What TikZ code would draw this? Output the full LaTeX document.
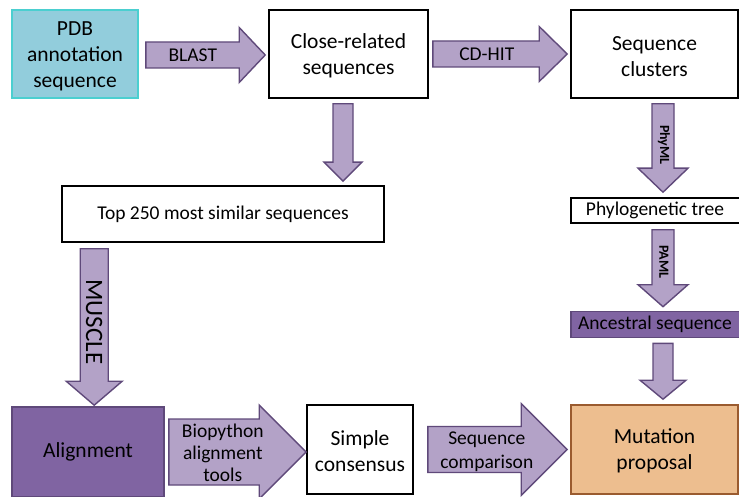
\documentclass[tikz,border=0pt]{standalone}
\usepackage{fontspec}
\setmainfont{Carlito}
\usetikzlibrary{calc}

\definecolor{arrowfill}{HTML}{B3A2C7}
\definecolor{arrowline}{HTML}{5F497A}
\definecolor{pdbfill}{HTML}{92CDDC}
\definecolor{pdbline}{HTML}{4BCFD0}
\definecolor{violetfill}{HTML}{8064A2}
\definecolor{violetline}{HTML}{5F497A}
\definecolor{orangefill}{HTML}{EDBE8F}
\definecolor{orangeline}{HTML}{9A5B2F}

% horizontal block arrow: from, to, shaft half-height, head half-height, head length
\newcommand\hblock[5]{%
  \path[blockarrow] let \p1=(#1), \p2=(#2) in
    (\x1,\y1+#3pt) -- (\x2-#5pt,\y1+#3pt) -- (\x2-#5pt,\y1+#4pt) -- (\x2,\y1)
    -- (\x2-#5pt,\y1-#4pt) -- (\x2-#5pt,\y1-#3pt) -- (\x1,\y1-#3pt) -- cycle;}
% downward block arrow: from, to, shaft half-width, head half-width, head length
\newcommand\vblock[5]{%
  \path[blockarrow] let \p1=(#1), \p2=(#2) in
    (\x1-#3pt,\y1) -- (\x1-#3pt,\y2+#5pt) -- (\x1-#4pt,\y2+#5pt) -- (\x1,\y2)
    -- (\x1+#4pt,\y2+#5pt) -- (\x1+#3pt,\y2+#5pt) -- (\x1+#3pt,\y1) -- cycle;}

\tikzset{
  box/.style={draw=black, fill=white, line width=1.6pt, align=center, inner sep=0pt,
    font=\fontsize{21.5}{26}\selectfont},
  thinbox/.style={box, font=\fontsize{19.5}{23}\selectfont},
  pdbbox/.style={box, fill=pdbfill, draw=pdbline},
  violetbox/.style={box, fill=violetfill, draw=violetline},
  orangebox/.style={box, fill=orangefill, draw=orangeline},
  blockarrow/.style={draw=arrowline, fill=arrowfill, line width=1.4pt, line join=miter},
  lbl/.style={align=center, inner sep=0pt, font=\fontsize{19.5}{22.5}\selectfont},
  vlbl/.style={lbl, rotate=-90},
  toollbl/.style={vlbl, font=\bfseries\fontsize{14}{16}\selectfont},
}

\begin{document}
\begin{tikzpicture}[x=1pt, y=-1pt]
\useasboundingbox (0,0) rectangle (739,497);

% process boxes
\node[pdbbox, minimum width=126pt, minimum height=88pt] (pdb) at (75,54)
  {\strut PDB\\annotation\\sequence};
\node[box, minimum width=159pt, minimum height=88pt] (close) at (348.5,54)
  {\strut Close-related\\sequences};
\node[box, minimum width=167pt, minimum height=88pt] (clusters) at (654.5,54)
  {\strut Sequence\\clusters};
\node[thinbox, minimum width=322pt, minimum height=56pt] (top) at (223,214)
  {Top 250 most similar sequences};
% the two narrow boxes run past the right edge of the page
\node[thinbox, minimum width=174pt, minimum height=25pt] (tree) at (658,210.5)
  {\hspace*{-6pt}Phylogenetic tree};
\node[thinbox, fill=violetfill, draw=violetline, minimum width=174pt, minimum height=26pt]
  (anc) at (658,324.5) {\hspace*{-6pt}Ancestral sequence};
\node[violetbox, minimum width=152pt, minimum height=90pt] (align) at (88,452)
  {Alignment};
\node[box, minimum width=106pt, minimum height=89pt] (cons) at (360,449.5)
  {\strut Simple\\consensus};
\node[orangebox, minimum width=167pt, minimum height=89pt] (mut) at (654.5,449.5)
  {\strut Mutation\\proposal};

% arrow end points
\coordinate (blastA) at ($(pdb.east)+(7,1)$);
\coordinate (blastB) at ($(close.west)+(-3,1)$);
\coordinate (cdhitA) at ($(close.east)+(4,0)$);
\coordinate (cdhitB) at ($(clusters.west)+(-3,0)$);
\coordinate (downA)  at ($(close.south)+(-5.5,5)$);
\coordinate (downB)  at ($(top.north)+(0,-4)$);
\coordinate (phyA)   at ($(clusters.south)+(8.5,5)$);
\coordinate (phyB)   at ($(tree.north)+(0,-5)$);
\coordinate (pamlA)  at ($(tree.south)+(5,6)$);
\coordinate (pamlB)  at ($(anc.north)+(0,-4)$);
\coordinate (ancA)   at ($(anc.south)+(5,5)$);
\coordinate (ancB)   at ($(mut.north)+(0,-5)$);
\coordinate (muscA)  at ($(top.south west)+(33,6)$);
\coordinate (muscB)  at ($(align.north)+(0,-1)$);
\coordinate (bioA)   at ($(align.east)+(4,0)$);
\coordinate (bioB)   at ($(cons.west)+(0,2)$);
\coordinate (cmpA)   at ($(cons.east)+(14,0)$);
\coordinate (cmpB)   at ($(mut.west)+(-3,0)$);

% block arrows
\hblock{blastA}{blastB}{13}{27.5}{26}
\hblock{cdhitA}{cdhitB}{13}{27.5}{28}
\vblock{downA}{downB}{10}{19}{19}
\vblock{phyA}{phyB}{11}{25}{24}
\vblock{pamlA}{pamlB}{11}{25}{22}
\vblock{ancA}{ancB}{10}{23}{19}
\vblock{muscA}{muscB}{14}{28}{24}
\hblock{bioA}{bioB}{33}{47}{47}
\hblock{cmpA}{cmpB}{23}{46}{46}

% arrow labels
\node[lbl] (lblast) at ($(blastA)+(47,0)$) {BLAST};
\node[lbl] (lcdhit) at ($(cdhitA)+(54,0)$) {CD-HIT};
\node[toollbl] (lphy) at ($(phyA)+(1,41)$) {PhyML};
\node[toollbl] (lpaml) at ($(pamlA)+(1,32)$) {PAML};
\node[vlbl, font=\fontsize{25}{28}\selectfont] (lmusc) at ($(muscA)+(0,73)$) {MUSCLE};
\node[lbl, font=\fontsize{19.5}{22}\selectfont] (lbio) at ($(bioA)+(54,1)$) {Biopython\\alignment\\tools};
\node[lbl, font=\fontsize{19.5}{24}\selectfont] (lcmp) at ($(cmpA)+(59,2)$) {Sequence\\comparison};
\end{tikzpicture}
\end{document}
